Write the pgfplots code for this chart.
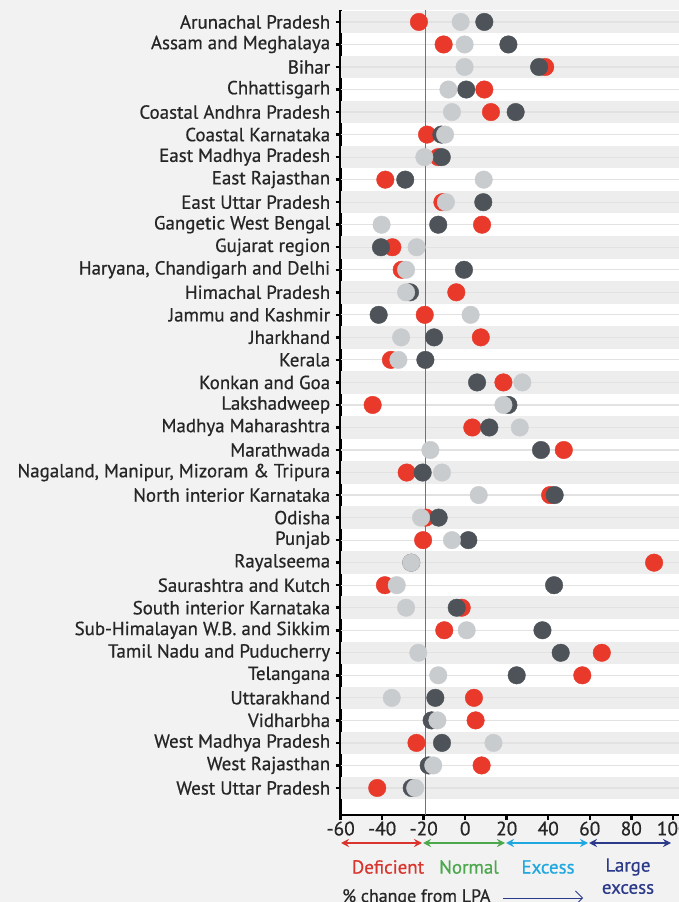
\documentclass[border=0pt]{standalone}
\usepackage{pgfplots}
\pgfplotsset{compat=1.18}
\usepackage{pgfplotstable}
\usepackage{fontspec}
\setmainfont{PT Sans}[FakeBold=0.6]
\newfontfamily\medfont{PT Sans}[FakeBold=0.6]
\usetikzlibrary{arrows.meta}

\definecolor{bgcol}{HTML}{F2F2F2}
\definecolor{band}{HTML}{EDEDED}
\definecolor{rowline}{HTML}{E2E2E2}
\definecolor{rdot}{HTML}{E8392B}
\definecolor{ldot}{HTML}{C9CCCF}
\definecolor{ddot}{HTML}{4D5358}
\definecolor{labcol}{HTML}{262626}
\definecolor{cdef}{HTML}{D9352E}
\definecolor{cnorm}{HTML}{4CA84C}
\definecolor{cexc}{HTML}{1FA8E0}
\definecolor{clarge}{HTML}{2C3A8A}

% y = row index from the top, values in % change from LPA
\pgfplotstableread{
y  red    light  dark
0  -22.3  -2.2   9.2
1  -10.4  -0.3   20.8
2  38.5   -0.3   35.6
3  9.2    -8.1   0.5
4  12.4   -6.4   24.3
5  -18.4  -9.7   -11.5
6  -13.0  -19.7  -11.3
7  -38.5  8.9    -28.9
8  -11.0  -9.3   8.7
9  8.1    -40.3  -13.0
10 -35.1  -23.4  -40.6
11 -30.6  -28.5  -0.6
12 -4.3   -28.5  -26.6
13 -19.5  2.6    -41.7
14 7.5    -30.9  -15.0
15 -35.8  -32.2  -19.2
16 18.4   27.5   5.7
17 -44.6  18.4   20.8
18 3.4    26.3   11.6
19 47.5   -16.8  36.5
20 -28.2  -11.2  -20.5
21 40.9   6.5    43.1
22 -19.0  -21.3  -12.8
23 -20.3  -6.4   1.5
24 91.0   -26.0  -26.0
25 -38.7  -33.0  42.8
26 -1.7   -28.5  -4.1
27 -10.1  0.7    37.2
28 65.8   -22.6  46.0
29 56.4   -13.0  24.8
30 4.2    -35.4  -14.4
31 5.0    -13.4  -16.2
32 -23.5  13.6   -11.2
33 7.9    -15.4  -17.6
34 -42.4  -24.1  -25.8
}\rain

\begin{document}
\begin{tikzpicture}
\fill[bgcol] (0,0) rectangle (679bp,902bp);
\begin{axis}[
    at={(340.7bp,87bp)}, anchor=south west,
    scale only axis,
    width=338.3bp, height=805bp,
    xmin=-60, xmax=103,
    ymin=-0.53, ymax=35.2,
    y dir=reverse,
    axis x line*=bottom, axis y line*=left,
    axis line style={line width=2.5bp, black, -},
    axis background/.style={fill=white},
    tick align=outside,
    major tick length=5bp,
    tick style={line width=2.5bp, black},
    xtick={-60,-40,...,100},
    xticklabels={-60,-40,-20,0,20,40,60,80,100},
    xticklabel style={font=\medfont\fontsize{19.5}{21}\selectfont, text=labcol, yshift=2bp},
    ytick={0,...,34},
    yticklabels={Arunachal Pradesh, Assam and Meghalaya, Bihar, Chhattisgarh,
      Coastal Andhra Pradesh, Coastal Karnataka, East Madhya Pradesh,
      East Rajasthan, East Uttar Pradesh, Gangetic West Bengal, Gujarat region,
      {Haryana, Chandigarh and Delhi}, Himachal Pradesh, Jammu and Kashmir,
      Jharkhand, Kerala, Konkan and Goa, Lakshadweep, Madhya Maharashtra,
      Marathwada, {Nagaland, Manipur, Mizoram \& Tripura},
      North interior Karnataka, Odisha, Punjab, Rayalseema,
      Saurashtra and Kutch, South interior Karnataka,
      Sub-Himalayan W.B. and Sikkim, Tamil Nadu and Puducherry, Telangana,
      Uttarakhand, Vidharbha, West Madhya Pradesh, West Rajasthan,
      West Uttar Pradesh},
    yticklabel style={font=\medfont\fontsize{19}{20}\selectfont, text=labcol, xshift=-2bp},
    clip=false,
  ]
  % striped rows
  \pgfplotsinvokeforeach{0,2,...,34}{
    \fill[band] (axis cs:-60,#1-0.5) rectangle (axis cs:103,#1+0.5);
  }
  \pgfplotsinvokeforeach{0,...,34}{
    \draw[rowline, line width=1.2bp] (axis cs:-60,#1) -- (axis cs:103,#1);
  }
  % deficient boundary
  \draw[gray!90!black, line width=0.7bp] (axis cs:-19,-0.53) -- (axis cs:-19,35.2);

  \addplot[only marks, mark=*, mark size=8.8pt, color=rdot]
    table[x=red, y=y]{\rain};
  \addplot[only marks, mark=*, mark size=8.8pt, color=ddot]
    table[x=dark, y=y]{\rain};
  \addplot[only marks, mark=*, mark size=8.8pt, color=ldot]
    table[x=light, y=y]{\rain};
\end{axis}

% category key below the axis
\begin{scope}[line width=1.6bp, arrows={Stealth[length=8bp, width=8bp]-Stealth[length=8bp, width=8bp]}]
  \draw[cdef]   (341bp,59bp) -- (422bp,59bp);
  \draw[cnorm]  (423bp,59bp) -- (505bp,59bp);
  \draw[cexc]   (506bp,59bp) -- (588bp,59bp);
  \draw[clarge] (589bp,59bp) -- (671bp,59bp);
\end{scope}
\begin{scope}[font=\medfont\fontsize{19}{21}\selectfont]
  \node[text=cdef]   at (388bp,35bp) {Deficient};
  \node[text=cnorm]  at (469bp,35bp) {Normal};
  \node[text=cexc]   at (548bp,35bp) {Excess};
  \node[text=clarge] at (628bp,35bp) {Large};
  \node[text=clarge] at (628bp,13bp) {excess};
\end{scope}
\node[anchor=base west, inner sep=0pt, text=labcol, font=\medfont\fontsize{18}{20}\selectfont] at (342bp,0bp) {\% change from LPA};
\draw[clarge, line width=0.8bp, -{Straight Barb[length=7bp]}] (503bp,4bp) -- (583bp,4bp);

\pgfresetboundingbox
\path[use as bounding box] (0,0) rectangle (679bp,902bp);
\end{tikzpicture}
\end{document}
